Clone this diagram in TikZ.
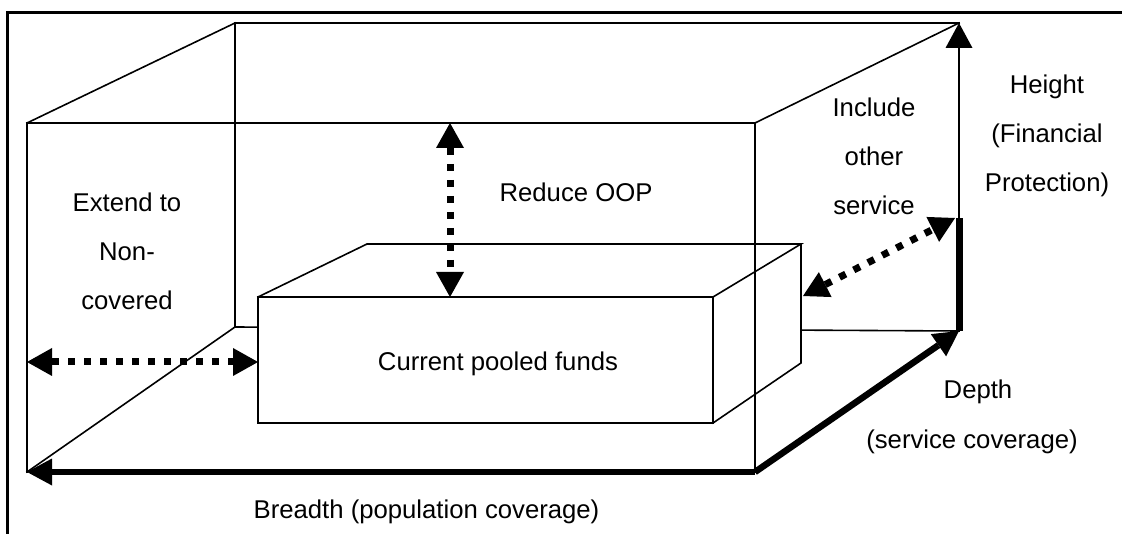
\documentclass[tikz,border=0pt]{standalone}
\usepackage{fontspec}
\setmainfont{Liberation Sans}
\usetikzlibrary{arrows.meta}
\begin{document}
\begin{tikzpicture}[x=1pt,y=-1pt,
  edge/.style={line width=1.6pt, line join=miter, line cap=rect},
  frame/.style={line width=3pt},
  tipA/.style={-{Triangle[width=27pt,length=25pt,line width=0pt]}},
  thickarrow/.style={line width=6.5pt, tipA},
  dotarrow/.style={line width=7pt, dash pattern=on 7pt off 9pt,
    {Triangle[width=28pt,length=25pt,line width=0pt]}-{Triangle[width=28pt,length=25pt,line width=0pt]}},
  lbl/.style={font=\fontsize{25.7}{49}\selectfont, inner sep=0pt, align=center, anchor=base}
]
\useasboundingbox (0,0) rectangle (1122,534);
% frame
\coordinate (FR1) at (7,534);
\coordinate (FR2) at (7,13);
\coordinate (FR3) at (1122,13);
\draw[frame] (FR1) -- (FR2) -- (FR3);
% big box
\coordinate (F1) at (27,123);
\coordinate (F2) at (755,123);
\coordinate (F3) at (755,472);
\coordinate (F4) at (27,472);
\coordinate (B1) at (235,23);
\coordinate (B2) at (959,23);
\coordinate (B3) at (959,331);
\coordinate (B4) at (235,327);
% small box
\coordinate (S1) at (258,297);
\coordinate (S2) at (713,297);
\coordinate (S3) at (713,423);
\coordinate (S4) at (258,423);
\coordinate (T1) at (367,244);
\coordinate (T2) at (801,244);
\coordinate (T3) at (801,363);
% arrow points
\coordinate (H1) at (959,218);
\coordinate (DL1) at (27,362);
\coordinate (DL2) at (258,362);
\coordinate (DV1) at (450,123);
\coordinate (DV2) at (450,297);
\coordinate (DD1) at (803,296);
\coordinate (DD2) at (955,218);

% back edges
\draw[edge] (B4) -- (B1) -- (B2);
\draw[edge] (B4) -- (B3);
\draw[edge] (B4) -- (F4);
\draw[edge] (B1) -- (F1);
\draw[edge] (B2) -- (F2);
\draw[edge] (F1) -- (F4);
% small box
\fill[white] (S4) -- (S1) -- (T1) -- (T2) -- (T3) -- (S3) -- cycle;
\draw[edge] (S1) rectangle (S3);
\draw[edge] (S1) -- (T1) -- (T2) -- (S2);
\draw[edge] (T2) -- (T3) -- (S3);
% front edges
\draw[edge] (F1) -- (F2) -- (F3);

% thick arrows
\draw[line width=7pt] (B3) -- (H1);
\draw[line width=2pt, tipA] (H1) -- (B2);
\draw[thickarrow] (F3) -- (B3);
\draw[thickarrow] (F3) -- (F4);

% dotted arrows
\draw[dotarrow] (DL1) -- (DL2);
\draw[dotarrow] (DV1) -- (DV2);
\draw[dotarrow] (DD1) -- (DD2);

% labels (base = baseline of last line)
\node[lbl] (ext) at (127,310) {Extend to\\Non-\\covered};
\node[lbl] (oop) at (576,202) {Reduce OOP};
\node[lbl] (inc) at (874,215) {Include\\other\\service};
\node[lbl] (hgt) at (1047,192) {Height\\(Financial\\Protection)};
\node[lbl] (cur) at (498,371) {Current pooled funds};
\node[lbl] (dep) at (978,399) {Depth};
\node[lbl] (svc) at (972,448) {(service coverage)};
\node[lbl] (brd) at (426.5,518) {Breadth (population coverage)};
\end{tikzpicture}
\end{document}
